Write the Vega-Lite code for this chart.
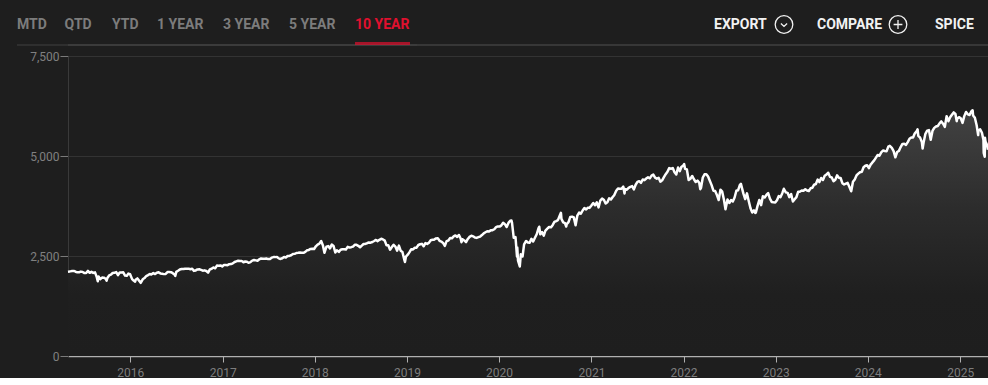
{
  "$schema": "https://vega.github.io/schema/vega-lite/v6.json",
  "background": "#1e1e1e",
  "padding": 0,
  "spacing": 4,
  "config": {"view": {"stroke": null}, "font": "Roboto", "concat": {"spacing": 4}},
  "datasets": {
    "menu": [{"item": "MTD"}, {"item": "QTD"}, {"item": "YTD"}, {"item": "1 YEAR"}, {"item": "3 YEAR"}, {"item": "5 YEAR"}, {"item": "10 YEAR"}],
    "actions": [{"item": "EXPORT"}, {"item": "COMPARE"}, {"item": "SPICE"}],
    "spx": [
      {"d":"2015-04-29","v":2106},{"d":"2015-05-01","v":2108},{"d":"2015-05-08","v":2116},{"d":"2015-05-15","v":2123},{"d":"2015-05-22","v":2126},{"d":"2015-05-29","v":2107},{"d":"2015-06-05","v":2092},{"d":"2015-06-12","v":2094},{"d":"2015-06-19","v":2110},{"d":"2015-06-26","v":2101},{"d":"2015-07-02","v":2077},{"d":"2015-07-10","v":2076},{"d":"2015-07-17","v":2127},{"d":"2015-07-24","v":2079},{"d":"2015-07-31","v":2104},{"d":"2015-08-07","v":2078},{"d":"2015-08-14","v":2092},{"d":"2015-08-21","v":1971},{"d":"2015-08-25","v":1868},{"d":"2015-08-28","v":1989},{"d":"2015-09-04","v":1921},{"d":"2015-09-11","v":1961},{"d":"2015-09-18","v":1958},{"d":"2015-09-25","v":1931},{"d":"2015-09-29","v":1884},{"d":"2015-10-02","v":1951},{"d":"2015-10-09","v":2014},{"d":"2015-10-16","v":2033},{"d":"2015-10-23","v":2075},{"d":"2015-10-30","v":2079},{"d":"2015-11-06","v":2099},{"d":"2015-11-13","v":2023},{"d":"2015-11-20","v":2089},{"d":"2015-11-27","v":2090},{"d":"2015-12-04","v":2091},{"d":"2015-12-11","v":2012},{"d":"2015-12-18","v":2005},{"d":"2015-12-24","v":2060},{"d":"2015-12-31","v":2044},
      {"d":"2016-01-08","v":1922},{"d":"2016-01-15","v":1880},{"d":"2016-01-20","v":1859},{"d":"2016-01-22","v":1906},{"d":"2016-01-29","v":1940},{"d":"2016-02-05","v":1880},{"d":"2016-02-11","v":1829},{"d":"2016-02-19","v":1918},{"d":"2016-02-26","v":1948},{"d":"2016-03-04","v":1999},{"d":"2016-03-11","v":2022},{"d":"2016-03-18","v":2049},{"d":"2016-03-24","v":2035},{"d":"2016-04-01","v":2073},{"d":"2016-04-08","v":2048},{"d":"2016-04-15","v":2081},{"d":"2016-04-22","v":2092},{"d":"2016-04-29","v":2065},{"d":"2016-05-06","v":2057},{"d":"2016-05-13","v":2047},{"d":"2016-05-20","v":2052},{"d":"2016-05-27","v":2099},{"d":"2016-06-03","v":2099},{"d":"2016-06-10","v":2096},{"d":"2016-06-17","v":2071},{"d":"2016-06-24","v":2037},{"d":"2016-06-27","v":2001},{"d":"2016-07-01","v":2103},{"d":"2016-07-08","v":2130},{"d":"2016-07-15","v":2162},{"d":"2016-07-22","v":2175},{"d":"2016-07-29","v":2174},{"d":"2016-08-05","v":2183},{"d":"2016-08-12","v":2184},{"d":"2016-08-19","v":2184},{"d":"2016-08-26","v":2169},{"d":"2016-09-02","v":2180},{"d":"2016-09-09","v":2128},{"d":"2016-09-16","v":2139},{"d":"2016-09-23","v":2165},{"d":"2016-09-30","v":2168},{"d":"2016-10-07","v":2153},{"d":"2016-10-14","v":2133},{"d":"2016-10-21","v":2141},{"d":"2016-10-28","v":2126},{"d":"2016-11-04","v":2085},{"d":"2016-11-11","v":2164},{"d":"2016-11-18","v":2182},{"d":"2016-11-25","v":2213},{"d":"2016-12-02","v":2192},{"d":"2016-12-09","v":2260},{"d":"2016-12-16","v":2258},{"d":"2016-12-23","v":2264},{"d":"2016-12-30","v":2239},
      {"d":"2017-01-06","v":2277},{"d":"2017-01-13","v":2275},{"d":"2017-01-20","v":2271},{"d":"2017-01-27","v":2295},{"d":"2017-02-03","v":2297},{"d":"2017-02-10","v":2316},{"d":"2017-02-17","v":2351},{"d":"2017-02-24","v":2367},{"d":"2017-03-03","v":2383},{"d":"2017-03-10","v":2373},{"d":"2017-03-17","v":2378},{"d":"2017-03-24","v":2344},{"d":"2017-03-31","v":2363},{"d":"2017-04-07","v":2355},{"d":"2017-04-13","v":2329},{"d":"2017-04-21","v":2349},{"d":"2017-04-28","v":2384},{"d":"2017-05-05","v":2399},{"d":"2017-05-12","v":2391},{"d":"2017-05-19","v":2382},{"d":"2017-05-26","v":2416},{"d":"2017-06-02","v":2439},{"d":"2017-06-09","v":2432},{"d":"2017-06-16","v":2433},{"d":"2017-06-23","v":2438},{"d":"2017-06-30","v":2423},{"d":"2017-07-07","v":2425},{"d":"2017-07-14","v":2459},{"d":"2017-07-21","v":2473},{"d":"2017-07-28","v":2472},{"d":"2017-08-04","v":2477},{"d":"2017-08-11","v":2441},{"d":"2017-08-18","v":2426},{"d":"2017-08-25","v":2444},{"d":"2017-09-01","v":2477},{"d":"2017-09-08","v":2461},{"d":"2017-09-15","v":2500},{"d":"2017-09-22","v":2502},{"d":"2017-09-29","v":2519},{"d":"2017-10-06","v":2549},{"d":"2017-10-13","v":2553},{"d":"2017-10-20","v":2575},{"d":"2017-10-27","v":2581},{"d":"2017-11-03","v":2588},{"d":"2017-11-10","v":2582},{"d":"2017-11-17","v":2579},{"d":"2017-11-24","v":2602},{"d":"2017-12-01","v":2642},{"d":"2017-12-08","v":2652},{"d":"2017-12-15","v":2676},{"d":"2017-12-22","v":2683},{"d":"2017-12-29","v":2674},
      {"d":"2018-01-05","v":2743},{"d":"2018-01-12","v":2786},{"d":"2018-01-19","v":2810},{"d":"2018-01-26","v":2873},{"d":"2018-02-02","v":2762},{"d":"2018-02-08","v":2581},{"d":"2018-02-16","v":2732},{"d":"2018-02-23","v":2747},{"d":"2018-03-02","v":2691},{"d":"2018-03-09","v":2786},{"d":"2018-03-16","v":2752},{"d":"2018-03-23","v":2588},{"d":"2018-03-29","v":2641},{"d":"2018-04-06","v":2604},{"d":"2018-04-13","v":2656},{"d":"2018-04-20","v":2670},{"d":"2018-04-27","v":2670},{"d":"2018-05-04","v":2663},{"d":"2018-05-11","v":2728},{"d":"2018-05-18","v":2712},{"d":"2018-05-25","v":2721},{"d":"2018-06-01","v":2735},{"d":"2018-06-08","v":2779},{"d":"2018-06-15","v":2780},{"d":"2018-06-22","v":2755},{"d":"2018-06-29","v":2718},{"d":"2018-07-06","v":2760},{"d":"2018-07-13","v":2801},{"d":"2018-07-20","v":2802},{"d":"2018-07-27","v":2819},{"d":"2018-08-03","v":2840},{"d":"2018-08-10","v":2833},{"d":"2018-08-17","v":2850},{"d":"2018-08-24","v":2875},{"d":"2018-08-31","v":2902},{"d":"2018-09-07","v":2872},{"d":"2018-09-14","v":2905},{"d":"2018-09-21","v":2930},{"d":"2018-09-28","v":2914},{"d":"2018-10-05","v":2885},{"d":"2018-10-12","v":2767},{"d":"2018-10-19","v":2768},{"d":"2018-10-26","v":2658},{"d":"2018-11-02","v":2723},{"d":"2018-11-09","v":2781},{"d":"2018-11-16","v":2736},{"d":"2018-11-23","v":2633},{"d":"2018-11-30","v":2760},{"d":"2018-12-07","v":2633},{"d":"2018-12-14","v":2600},{"d":"2018-12-21","v":2417},{"d":"2018-12-24","v":2351},{"d":"2018-12-28","v":2486},
      {"d":"2019-01-04","v":2532},{"d":"2019-01-11","v":2596},{"d":"2019-01-18","v":2671},{"d":"2019-01-25","v":2665},{"d":"2019-02-01","v":2707},{"d":"2019-02-08","v":2708},{"d":"2019-02-15","v":2776},{"d":"2019-02-22","v":2793},{"d":"2019-03-01","v":2804},{"d":"2019-03-08","v":2743},{"d":"2019-03-15","v":2822},{"d":"2019-03-22","v":2801},{"d":"2019-03-29","v":2834},{"d":"2019-04-05","v":2893},{"d":"2019-04-12","v":2907},{"d":"2019-04-18","v":2905},{"d":"2019-04-26","v":2940},{"d":"2019-05-03","v":2946},{"d":"2019-05-10","v":2881},{"d":"2019-05-17","v":2860},{"d":"2019-05-24","v":2826},{"d":"2019-05-31","v":2752},{"d":"2019-06-07","v":2873},{"d":"2019-06-14","v":2887},{"d":"2019-06-21","v":2950},{"d":"2019-06-28","v":2942},{"d":"2019-07-05","v":2990},{"d":"2019-07-12","v":3014},{"d":"2019-07-19","v":2977},{"d":"2019-07-26","v":3026},{"d":"2019-08-02","v":2932},{"d":"2019-08-05","v":2845},{"d":"2019-08-09","v":2919},{"d":"2019-08-16","v":2889},{"d":"2019-08-23","v":2847},{"d":"2019-08-30","v":2926},{"d":"2019-09-06","v":2979},{"d":"2019-09-13","v":3007},{"d":"2019-09-20","v":2992},{"d":"2019-09-27","v":2962},{"d":"2019-10-04","v":2953},{"d":"2019-10-11","v":2970},{"d":"2019-10-18","v":2986},{"d":"2019-10-25","v":3023},{"d":"2019-11-01","v":3067},{"d":"2019-11-08","v":3093},{"d":"2019-11-15","v":3120},{"d":"2019-11-22","v":3110},{"d":"2019-11-29","v":3141},{"d":"2019-12-06","v":3146},{"d":"2019-12-13","v":3169},{"d":"2019-12-20","v":3221},{"d":"2019-12-27","v":3240},
      {"d":"2020-01-03","v":3235},{"d":"2020-01-10","v":3265},{"d":"2020-01-17","v":3330},{"d":"2020-01-24","v":3295},{"d":"2020-01-31","v":3226},{"d":"2020-02-07","v":3328},{"d":"2020-02-14","v":3380},{"d":"2020-02-19","v":3386},{"d":"2020-02-21","v":3338},{"d":"2020-02-28","v":2954},{"d":"2020-03-06","v":2972},{"d":"2020-03-12","v":2481},{"d":"2020-03-13","v":2711},{"d":"2020-03-16","v":2386},{"d":"2020-03-20","v":2305},{"d":"2020-03-23","v":2237},{"d":"2020-03-27","v":2541},{"d":"2020-04-03","v":2489},{"d":"2020-04-09","v":2790},{"d":"2020-04-17","v":2875},{"d":"2020-04-24","v":2837},{"d":"2020-05-01","v":2831},{"d":"2020-05-08","v":2930},{"d":"2020-05-15","v":2864},{"d":"2020-05-22","v":2955},{"d":"2020-05-29","v":3044},{"d":"2020-06-05","v":3194},{"d":"2020-06-08","v":3232},{"d":"2020-06-12","v":3041},{"d":"2020-06-19","v":3098},{"d":"2020-06-26","v":3009},{"d":"2020-07-02","v":3130},{"d":"2020-07-10","v":3185},{"d":"2020-07-17","v":3225},{"d":"2020-07-24","v":3216},{"d":"2020-07-31","v":3271},{"d":"2020-08-07","v":3351},{"d":"2020-08-14","v":3373},{"d":"2020-08-21","v":3397},{"d":"2020-08-28","v":3508},{"d":"2020-09-02","v":3580},{"d":"2020-09-04","v":3427},{"d":"2020-09-11","v":3341},{"d":"2020-09-18","v":3319},{"d":"2020-09-23","v":3237},{"d":"2020-09-25","v":3298},{"d":"2020-10-02","v":3348},{"d":"2020-10-09","v":3477},{"d":"2020-10-16","v":3484},{"d":"2020-10-23","v":3465},{"d":"2020-10-30","v":3270},{"d":"2020-11-06","v":3510},{"d":"2020-11-13","v":3585},{"d":"2020-11-20","v":3558},{"d":"2020-11-27","v":3638},{"d":"2020-12-04","v":3699},{"d":"2020-12-11","v":3663},{"d":"2020-12-18","v":3709},{"d":"2020-12-24","v":3703},{"d":"2020-12-31","v":3756},
      {"d":"2021-01-08","v":3825},{"d":"2021-01-15","v":3768},{"d":"2021-01-22","v":3841},{"d":"2021-01-29","v":3714},{"d":"2021-02-05","v":3887},{"d":"2021-02-12","v":3934},{"d":"2021-02-19","v":3907},{"d":"2021-02-26","v":3811},{"d":"2021-03-05","v":3842},{"d":"2021-03-12","v":3943},{"d":"2021-03-19","v":3913},{"d":"2021-03-26","v":3975},{"d":"2021-04-01","v":4020},{"d":"2021-04-09","v":4129},{"d":"2021-04-16","v":4185},{"d":"2021-04-23","v":4180},{"d":"2021-04-30","v":4181},{"d":"2021-05-07","v":4233},{"d":"2021-05-12","v":4063},{"d":"2021-05-14","v":4174},{"d":"2021-05-21","v":4156},{"d":"2021-05-28","v":4204},{"d":"2021-06-04","v":4230},{"d":"2021-06-11","v":4247},{"d":"2021-06-18","v":4166},{"d":"2021-06-25","v":4281},{"d":"2021-07-02","v":4352},{"d":"2021-07-09","v":4370},{"d":"2021-07-16","v":4327},{"d":"2021-07-23","v":4412},{"d":"2021-07-30","v":4395},{"d":"2021-08-06","v":4437},{"d":"2021-08-13","v":4468},{"d":"2021-08-20","v":4442},{"d":"2021-08-27","v":4509},{"d":"2021-09-03","v":4535},{"d":"2021-09-10","v":4459},{"d":"2021-09-17","v":4433},{"d":"2021-09-24","v":4455},{"d":"2021-10-01","v":4357},{"d":"2021-10-08","v":4391},{"d":"2021-10-15","v":4471},{"d":"2021-10-22","v":4545},{"d":"2021-10-29","v":4605},{"d":"2021-11-05","v":4697},{"d":"2021-11-12","v":4682},{"d":"2021-11-19","v":4698},{"d":"2021-11-26","v":4595},{"d":"2021-12-03","v":4538},{"d":"2021-12-10","v":4712},{"d":"2021-12-17","v":4620},{"d":"2021-12-23","v":4726},{"d":"2021-12-31","v":4766},
      {"d":"2022-01-03","v":4797},{"d":"2022-01-07","v":4677},{"d":"2022-01-14","v":4663},{"d":"2022-01-21","v":4398},{"d":"2022-01-28","v":4432},{"d":"2022-02-04","v":4501},{"d":"2022-02-11","v":4419},{"d":"2022-02-18","v":4349},{"d":"2022-02-25","v":4385},{"d":"2022-03-04","v":4329},{"d":"2022-03-08","v":4171},{"d":"2022-03-11","v":4204},{"d":"2022-03-18","v":4463},{"d":"2022-03-25","v":4543},{"d":"2022-04-01","v":4546},{"d":"2022-04-08","v":4488},{"d":"2022-04-14","v":4393},{"d":"2022-04-22","v":4272},{"d":"2022-04-29","v":4132},{"d":"2022-05-06","v":4123},{"d":"2022-05-13","v":4024},{"d":"2022-05-20","v":3901},{"d":"2022-05-27","v":4158},{"d":"2022-06-03","v":4109},{"d":"2022-06-10","v":3901},{"d":"2022-06-16","v":3667},{"d":"2022-06-24","v":3912},{"d":"2022-07-01","v":3825},{"d":"2022-07-08","v":3899},{"d":"2022-07-15","v":3863},{"d":"2022-07-22","v":3962},{"d":"2022-07-29","v":4130},{"d":"2022-08-05","v":4145},{"d":"2022-08-12","v":4280},{"d":"2022-08-16","v":4305},{"d":"2022-08-19","v":4228},{"d":"2022-08-26","v":4058},{"d":"2022-09-02","v":3924},{"d":"2022-09-09","v":4067},{"d":"2022-09-16","v":3873},{"d":"2022-09-23","v":3693},{"d":"2022-09-30","v":3586},{"d":"2022-10-07","v":3640},{"d":"2022-10-12","v":3577},{"d":"2022-10-14","v":3583},{"d":"2022-10-21","v":3753},{"d":"2022-10-28","v":3901},{"d":"2022-11-04","v":3771},{"d":"2022-11-11","v":3993},{"d":"2022-11-18","v":3965},{"d":"2022-11-25","v":4026},{"d":"2022-12-02","v":4072},{"d":"2022-12-09","v":3934},{"d":"2022-12-16","v":3852},{"d":"2022-12-23","v":3845},{"d":"2022-12-30","v":3840},
      {"d":"2023-01-06","v":3895},{"d":"2023-01-13","v":3999},{"d":"2023-01-20","v":3973},{"d":"2023-01-27","v":4071},{"d":"2023-02-02","v":4180},{"d":"2023-02-10","v":4090},{"d":"2023-02-17","v":4079},{"d":"2023-02-24","v":3970},{"d":"2023-03-03","v":4046},{"d":"2023-03-10","v":3862},{"d":"2023-03-17","v":3917},{"d":"2023-03-24","v":3971},{"d":"2023-03-31","v":4109},{"d":"2023-04-06","v":4105},{"d":"2023-04-14","v":4138},{"d":"2023-04-21","v":4133},{"d":"2023-04-28","v":4169},{"d":"2023-05-05","v":4136},{"d":"2023-05-12","v":4124},{"d":"2023-05-19","v":4192},{"d":"2023-05-26","v":4205},{"d":"2023-06-02","v":4282},{"d":"2023-06-09","v":4299},{"d":"2023-06-16","v":4410},{"d":"2023-06-23","v":4348},{"d":"2023-06-30","v":4450},{"d":"2023-07-07","v":4399},{"d":"2023-07-14","v":4505},{"d":"2023-07-21","v":4536},{"d":"2023-07-28","v":4582},{"d":"2023-08-04","v":4478},{"d":"2023-08-11","v":4464},{"d":"2023-08-18","v":4370},{"d":"2023-08-25","v":4406},{"d":"2023-09-01","v":4516},{"d":"2023-09-08","v":4457},{"d":"2023-09-15","v":4450},{"d":"2023-09-22","v":4320},{"d":"2023-09-29","v":4288},{"d":"2023-10-06","v":4308},{"d":"2023-10-13","v":4327},{"d":"2023-10-20","v":4224},{"d":"2023-10-27","v":4117},{"d":"2023-11-03","v":4358},{"d":"2023-11-10","v":4415},{"d":"2023-11-17","v":4514},{"d":"2023-11-24","v":4559},{"d":"2023-12-01","v":4595},{"d":"2023-12-08","v":4604},{"d":"2023-12-15","v":4719},{"d":"2023-12-22","v":4755},{"d":"2023-12-29","v":4770},
      {"d":"2024-01-05","v":4697},{"d":"2024-01-12","v":4784},{"d":"2024-01-19","v":4840},{"d":"2024-01-26","v":4891},{"d":"2024-02-02","v":4959},{"d":"2024-02-09","v":5027},{"d":"2024-02-16","v":5006},{"d":"2024-02-23","v":5089},{"d":"2024-03-01","v":5137},{"d":"2024-03-08","v":5124},{"d":"2024-03-15","v":5117},{"d":"2024-03-22","v":5234},{"d":"2024-03-28","v":5254},{"d":"2024-04-05","v":5204},{"d":"2024-04-12","v":5123},{"d":"2024-04-19","v":4967},{"d":"2024-04-26","v":5100},{"d":"2024-05-03","v":5128},{"d":"2024-05-10","v":5223},{"d":"2024-05-17","v":5303},{"d":"2024-05-24","v":5305},{"d":"2024-05-31","v":5278},{"d":"2024-06-07","v":5347},{"d":"2024-06-14","v":5432},{"d":"2024-06-21","v":5465},{"d":"2024-06-28","v":5460},{"d":"2024-07-05","v":5567},{"d":"2024-07-12","v":5615},{"d":"2024-07-16","v":5667},{"d":"2024-07-19","v":5505},{"d":"2024-07-26","v":5459},{"d":"2024-08-02","v":5347},{"d":"2024-08-05","v":5186},{"d":"2024-08-09","v":5344},{"d":"2024-08-16","v":5554},{"d":"2024-08-23","v":5634},{"d":"2024-08-30","v":5648},{"d":"2024-09-06","v":5408},{"d":"2024-09-13","v":5626},{"d":"2024-09-20","v":5703},{"d":"2024-09-27","v":5738},{"d":"2024-10-04","v":5751},{"d":"2024-10-11","v":5815},{"d":"2024-10-18","v":5864},{"d":"2024-10-25","v":5808},{"d":"2024-11-01","v":5729},{"d":"2024-11-08","v":5996},{"d":"2024-11-15","v":5870},{"d":"2024-11-22","v":5969},{"d":"2024-11-29","v":6032},{"d":"2024-12-06","v":6090},{"d":"2024-12-13","v":6051},{"d":"2024-12-18","v":5872},{"d":"2024-12-20","v":5931},{"d":"2024-12-27","v":5971},
      {"d":"2025-01-03","v":5942},{"d":"2025-01-10","v":5827},{"d":"2025-01-17","v":5997},{"d":"2025-01-24","v":6101},{"d":"2025-01-31","v":6041},{"d":"2025-02-07","v":6026},{"d":"2025-02-14","v":6115},{"d":"2025-02-19","v":6144},{"d":"2025-02-21","v":6013},{"d":"2025-02-28","v":5955},{"d":"2025-03-07","v":5770},{"d":"2025-03-13","v":5522},{"d":"2025-03-14","v":5639},{"d":"2025-03-21","v":5667},{"d":"2025-03-28","v":5581},{"d":"2025-04-03","v":5397},{"d":"2025-04-04","v":5074},{"d":"2025-04-08","v":4982},{"d":"2025-04-09","v":5457},{"d":"2025-04-11","v":5363},{"d":"2025-04-17","v":5283},{"d":"2025-04-21","v":5158}
    ]
  },
  "vconcat": [
    {
      "width": 920,
      "height": 45,
      "layer": [
        {
          "data": {"name": "menu"},
          "transform": [{"filter": "indexof(['MTD','QTD','YTD'], datum.item) >= 0"}],
          "mark": {"type": "text", "align": "left", "baseline": "middle", "fontSize": 14, "fontWeight": "bold", "font": "Roboto", "dy": 2, "color": "#7c7c7c"},
          "encoding": {
            "x": {"field": "item", "type": "nominal", "sort": null, "scale": {"type": "point", "padding": 0, "domain": ["MTD", "QTD", "YTD"], "range": [-51, 44]}, "axis": null},
            "text": {"field": "item"}
          }
        },
        {
          "data": {"name": "menu"},
          "transform": [{"filter": "indexof(['1 YEAR','3 YEAR','5 YEAR','10 YEAR'], datum.item) >= 0"}],
          "mark": {"type": "text", "align": "left", "baseline": "middle", "fontSize": 14, "fontWeight": "bold", "font": "Roboto", "dy": 2},
          "encoding": {
            "x": {"field": "item", "type": "nominal", "sort": null, "scale": {"type": "point", "padding": 0, "domain": ["1 YEAR", "3 YEAR", "5 YEAR", "10 YEAR"], "range": [89, 287]}, "axis": null},
            "text": {"field": "item"},
            "color": {"condition": {"test": "datum.item === '10 YEAR'", "value": "#e0102e"}, "value": "#7c7c7c"}
          }
        },
        {
          "data": {"name": "menu"},
          "transform": [{"filter": "datum.item === 'MTD'"}],
          "mark": {"type": "tick", "orient": "horizontal", "color": "#404040", "size": 400, "thickness": 1.5, "xOffset": 200},
          "encoding": {
            "x": {"field": "item", "type": "nominal", "sort": null, "scale": {"type": "point", "padding": 0, "domain": ["MTD", "QTD", "YTD"], "range": [-51, 44]}, "axis": null},
            "y": {"datum": 0, "type": "quantitative", "scale": {"domain": [0, 1]}, "axis": null}
          }
        },
        {
          "data": {"name": "menu"},
          "transform": [{"filter": "datum.item === 'MTD'"}],
          "mark": {"type": "rule", "color": "#404040", "strokeWidth": 1.5},
          "encoding": {
            "y": {"datum": 0, "type": "quantitative", "scale": {"domain": [0, 1]}, "axis": null}
          }
        },
        {
          "data": {"name": "menu"},
          "transform": [{"filter": "datum.item === '10 YEAR'"}],
          "mark": {"type": "tick", "orient": "horizontal", "color": "#e0102e", "size": 55, "thickness": 3, "xOffset": 27.5, "yOffset": -1.5},
          "encoding": {
            "x": {"field": "item", "type": "nominal", "sort": null, "scale": {"type": "point", "padding": 0, "domain": ["1 YEAR", "3 YEAR", "5 YEAR", "10 YEAR"], "range": [89, 287]}, "axis": null},
            "y": {"datum": 0, "type": "quantitative", "scale": {"domain": [0, 1]}, "axis": null}
          }
        },
        {
          "data": {"name": "actions"},
          "transform": [{"filter": "datum.item !== 'SPICE'"}],
          "mark": {"type": "text", "align": "left", "baseline": "middle", "fontSize": 14, "fontWeight": "bold", "font": "Roboto", "dy": 2, "color": "#f2f2f2"},
          "encoding": {
            "x": {"field": "item", "type": "nominal", "sort": null, "scale": {"type": "point", "padding": 0, "domain": ["EXPORT", "COMPARE", "SPICE"], "range": [646, 852]}, "axis": null},
            "text": {"field": "item"}
          }
        },
        {
          "data": {"name": "actions"},
          "transform": [{"filter": "datum.item === 'SPICE'"}],
          "mark": {"type": "text", "align": "left", "baseline": "middle", "fontSize": 14, "fontWeight": "bold", "font": "Roboto", "dy": 2, "xOffset": 15, "color": "#f2f2f2"},
          "encoding": {
            "x": {"field": "item", "type": "nominal", "sort": null, "scale": {"type": "point", "padding": 0, "domain": ["EXPORT", "COMPARE", "SPICE"], "range": [646, 852]}, "axis": null},
            "text": {"field": "item"}
          }
        },
        {
          "data": {"name": "actions"},
          "transform": [{"filter": "datum.item === 'EXPORT'"}],
          "mark": {"type": "point", "filled": false, "color": "#f2f2f2", "strokeWidth": 1.3, "size": 310, "opacity": 1, "xOffset": 70, "yOffset": 2, "shape": "M-1,0A1,1,0,1,1,1,0A1,1,0,1,1,-1,0Z M-0.35,-0.12L0,0.22L0.35,-0.12"},
          "encoding": {
            "x": {"field": "item", "type": "nominal", "sort": null, "scale": {"type": "point", "padding": 0, "domain": ["EXPORT", "COMPARE", "SPICE"], "range": [646, 852]}, "axis": null}
          }
        },
        {
          "data": {"name": "actions"},
          "transform": [{"filter": "datum.item === 'COMPARE'"}],
          "mark": {"type": "point", "filled": false, "color": "#f2f2f2", "strokeWidth": 1.3, "size": 310, "opacity": 1, "xOffset": 81, "yOffset": 2, "shape": "M-1,0A1,1,0,1,1,1,0A1,1,0,1,1,-1,0Z M-0.5,0L0.5,0 M0,-0.5L0,0.5"},
          "encoding": {
            "x": {"field": "item", "type": "nominal", "sort": null, "scale": {"type": "point", "padding": 0, "domain": ["EXPORT", "COMPARE", "SPICE"], "range": [646, 852]}, "axis": null}
          }
        }
      ],
      "resolve": {"scale": {"x": "independent"}}
    },
    {
      "width": 920,
      "height": 300,
      "data": {"name": "spx"},
      "encoding": {
        "x": {
          "field": "d", "type": "temporal", "title": null,
          "scale": {"nice": false},
          "axis": {"format": "%Y", "tickCount": {"interval": "year", "step": 1}, "grid": false, "labelColor": "#7d7d7d", "labelFontSize": 12, "labelFont": "Roboto", "domainColor": "#b0b0b0", "domainWidth": 1.5, "tickColor": "#b0b0b0", "tickSize": 6, "labelPadding": 5, "labelFlush": false}
        },
        "y": {
          "field": "v", "type": "quantitative", "title": null,
          "scale": {"domain": [0, 7500], "nice": false},
          "axis": {"values": [0, 2500, 5000, 7500], "format": ",d", "grid": true, "gridColor": "#333333", "gridWidth": 1, "labelColor": "#808080", "labelFontSize": 12, "labelFont": "Roboto", "domainColor": "#3a3a3a", "tickColor": "#7a7a7a", "tickSize": 8, "labelPadding": 1, "minExtent": 68, "maxExtent": 68}
        }
      },
      "layer": [
        {
          "mark": {"type": "area", "color": {"gradient": "linear", "x1": 0, "y1": 0, "x2": 0, "y2": 1, "stops": [{"offset": 0, "color": "#424242"}, {"offset": 0.4, "color": "#2c2c2c"}, {"offset": 0.75, "color": "#1f1f1f"}, {"offset": 1, "color": "#1e1e1e"}]}}
        },
        {
          "mark": {"type": "line", "color": "#ffffff", "strokeWidth": 2.5, "strokeJoin": "round"}
        }
      ]
    }
  ]
}
